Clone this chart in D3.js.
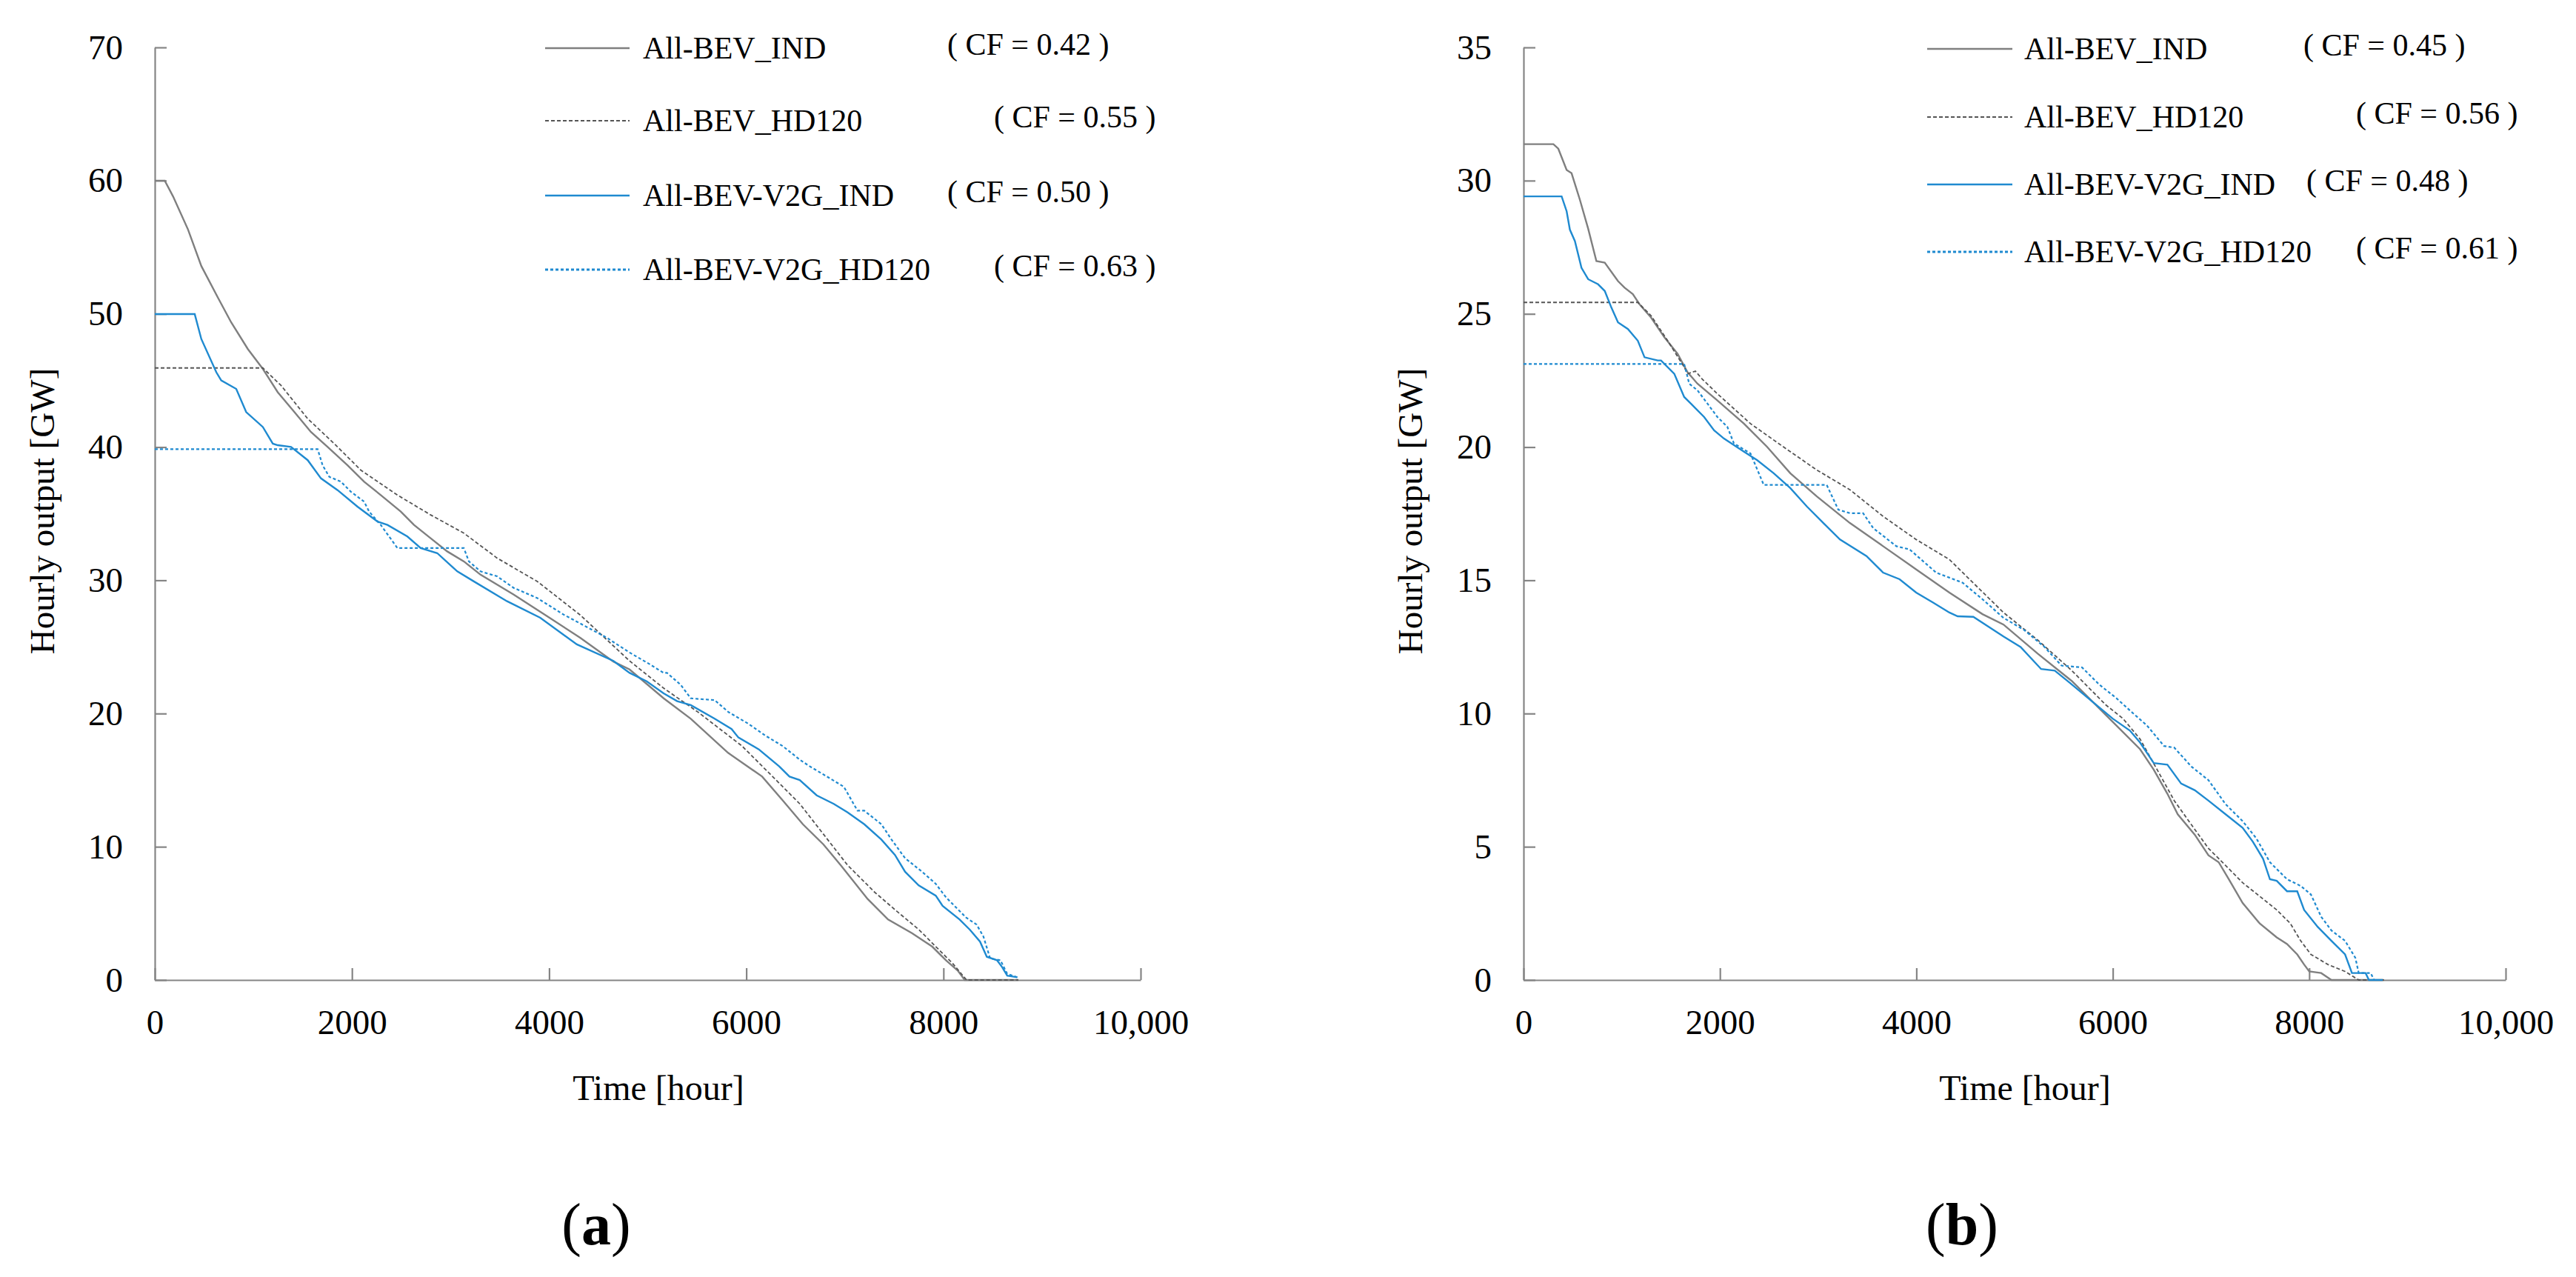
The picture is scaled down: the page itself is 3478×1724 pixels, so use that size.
<!DOCTYPE html>
<html>
<head>
<meta charset="utf-8">
<script src="https://cdn.jsdelivr.net/npm/d3@7"></script>
<style>
  body { margin: 0; background: #fff; }
  text { font-family: "Liberation Serif", "Times New Roman", "DejaVu Serif", serif; fill: #000; }
</style>
</head>
<body>
<svg id="chart" width="3478" height="1724"></svg>
<script>
// legend names and capacity factors
var seriesNames = ["All-BEV_IND", "All-BEV_HD120", "All-BEV-V2G_IND", "All-BEV-V2G_HD120"];
var cfA = ["0.42", "0.55", "0.50", "0.63"];
var cfB = ["0.45", "0.56", "0.48", "0.61"];

var xTicks = [0, 2000, 4000, 6000, 8000, 10000];
var xTickLabels = ["0", "2000", "4000", "6000", "8000", "10,000"];
var yTicksA = [0, 10, 20, 30, 40, 50, 60, 70];
var yTicksB = [0, 5, 10, 15, 20, 25, 30, 35];

// panel (a): [hour, GW]
var aBevInd = [[0,60],[101,60],[185,58.82],[337,56.33],[472,53.59],[640,51.22],[775,49.36],[944,47.36],[1096,45.87],[1247,44.12],[1416,42.63],[1584,41.13],[1753,40.01],[1955,38.64],[2124,37.4],[2292,36.4],[2495,35.16],[2629,34.16],[2798,33.16],[2966,32.17],[3135,31.42],[3304,30.42],[3641,28.93],[3978,27.31],[4315,25.69],[4652,23.9],[4816,23.31],[5162,21.14],[5437,19.61],[5815,17.05],[6161,15.27],[6369,13.48],[6574,11.69],[6784,10.16],[6956,8.63],[7231,6.08],[7438,4.54],[7680,3.52],[7887,2.5],[8025,1.48],[8145,0.71],[8216,0],[8760,0]];
var aBevHd120 = [[0,45.94],[1096,45.94],[1281,44.62],[1551,42.13],[1820,40.26],[2090,38.27],[2461,36.4],[2798,34.91],[3135,33.54],[3472,31.67],[3877,29.93],[4315,27.4],[4816,23.95],[5162,21.9],[5508,20.12],[5957,17.56],[6302,15.01],[6543,13.22],[6784,10.93],[7026,8.63],[7302,6.59],[7544,5.05],[7751,3.78],[7923,2.5],[8095,1.23],[8182,0.46],[8234,0],[8760,0]];
var aV2gInd = [[0,49.98],[405,49.98],[472,48.11],[624,45.62],[674,45.0],[826,44.37],[927,42.63],[1096,41.51],[1197,40.26],[1247,40.14],[1382,40.01],[1551,39.02],[1686,37.65],[1854,36.77],[2056,35.53],[2259,34.41],[2360,34.16],[2562,33.29],[2697,32.42],[2865,32.04],[3068,30.67],[3236,29.92],[3573,28.43],[3910,27.19],[4281,25.19],[4652,23.95],[4816,23.05],[4989,22.42],[5161,21.52],[5299,20.93],[5437,20.63],[5679,19.61],[5851,18.84],[5920,18.2],[6127,17.31],[6334,16.03],[6438,15.27],[6542,15.01],[6714,13.86],[6887,13.22],[7025,12.59],[7197,11.69],[7370,10.54],[7508,9.39],[7611,8.12],[7749,7.1],[7922,6.33],[7991,5.57],[8164,4.54],[8267,3.78],[8371,2.88],[8440,1.74],[8543,1.48],[8595,0.97],[8647,0.33],[8750,0.2]];
var aV2gHd120 = [[0,39.84],[1652,39.84],[1702,38.64],[1770,37.77],[1888,37.4],[1989,36.65],[2124,35.9],[2174,35.16],[2292,34.16],[2461,32.42],[3135,32.42],[3186,31.42],[3304,30.67],[3472,30.3],[3641,29.43],[3877,28.68],[4146,27.43],[4585,25.69],[4816,24.58],[5023,23.69],[5161,23.05],[5196,23.05],[5334,22.16],[5437,21.14],[5679,21.01],[5817,20.12],[6024,19.22],[6196,18.33],[6369,17.56],[6542,16.54],[6645,16.03],[6818,15.27],[6990,14.5],[7128,12.71],[7197,12.71],[7370,11.69],[7473,10.54],[7611,9.14],[7784,8.12],[7922,7.22],[8026,6.2],[8232,4.67],[8336,4.16],[8405,3.27],[8474,1.61],[8578,1.48],[8647,0.46],[8750,0.2]];

// panel (b): [hour, GW]
var bBevInd = [[0,31.37],[304,31.37],[354,31.2],[439,30.4],[489,30.28],[574,29.28],[658,28.2],[742,26.98],[827,26.92],[962,26.23],[1029,25.98],[1113,25.74],[1181,25.36],[1299,24.86],[1434,24.12],[1569,23.5],[1670,22.81],[1771,22.38],[1974,21.75],[2244,20.88],[2480,20.01],[2716,19.02],[2986,18.15],[3323,17.15],[3661,16.28],[3998,15.41],[4336,14.54],[4673,13.73],[4887,13.34],[5235,12.25],[5583,11.22],[5757,10.58],[5930,9.94],[6070,9.43],[6278,8.66],[6417,7.89],[6556,6.99],[6661,6.22],[6835,5.45],[6974,4.68],[7078,4.42],[7182,3.78],[7322,2.89],[7496,2.12],[7669,1.6],[7774,1.35],[7878,0.96],[7948,0.58],[8000,0.32],[8122,0.26],[8226,0],[8760,0]];
var bBevHd120 = [[0,25.43],[1164,25.43],[1299,24.93],[1468,23.99],[1636,23.0],[1670,22.75],[1750,22.85],[1820,22.55],[1974,22.0],[2311,20.88],[2649,20.0],[2986,19.14],[3323,18.4],[3661,17.4],[3998,16.53],[4336,15.78],[4887,13.79],[5235,12.76],[5583,11.61],[5930,10.32],[6104,9.81],[6278,9.04],[6452,7.89],[6626,6.73],[6800,5.83],[6974,4.94],[7148,4.3],[7322,3.65],[7496,3.14],[7669,2.63],[7808,2.12],[7913,1.47],[8017,0.96],[8191,0.58],[8365,0.32],[8504,0],[8760,0]];
var bV2gInd = [[0,29.41],[388,29.41],[439,28.85],[472,28.16],[523,27.73],[590,26.73],[658,26.3],[759,26.11],[827,25.86],[894,25.24],[962,24.68],[1063,24.43],[1164,23.99],[1232,23.37],[1366,23.25],[1400,23.25],[1535,22.75],[1636,21.88],[1704,21.63],[1839,21.13],[1940,20.63],[2041,20.32],[2244,19.83],[2379,19.51],[2547,19.02],[2716,18.46],[2885,17.77],[3053,17.15],[3222,16.53],[3492,15.91],[3661,15.29],[3829,15.04],[3998,14.54],[4167,14.17],[4336,13.79],[4420,13.65],[4580,13.63],[4887,12.89],[5061,12.5],[5270,11.67],[5409,11.61],[5583,11.09],[5791,10.45],[5999,9.81],[6174,9.36],[6278,8.91],[6417,8.14],[6556,8.08],[6696,7.37],[6835,7.12],[6974,6.73],[7148,6.22],[7322,5.71],[7426,5.19],[7530,4.55],[7600,3.78],[7669,3.72],[7774,3.33],[7878,3.33],[7948,2.63],[8087,1.99],[8226,1.47],[8365,0.96],[8435,0.26],[8574,0.26],[8608,0],[8748,0]];
var bV2gHd120 = [[0,23.12],[1636,23.12],[1687,22.38],[1771,22.13],[1873,21.63],[1974,21.13],[2075,20.76],[2142,20.14],[2311,19.76],[2446,18.58],[3087,18.58],[3205,17.65],[3323,17.52],[3458,17.52],[3560,16.96],[3796,16.28],[3931,16.16],[4201,15.29],[4471,14.91],[4673,14.29],[4887,13.59],[5096,13.14],[5304,12.5],[5478,11.8],[5687,11.73],[5861,11.09],[6035,10.58],[6209,10.0],[6348,9.55],[6522,8.78],[6626,8.72],[6800,8.01],[6974,7.5],[7148,6.6],[7322,5.96],[7461,5.32],[7600,4.42],[7774,3.78],[7913,3.53],[8017,3.21],[8122,2.37],[8226,1.86],[8365,1.47],[8470,0.83],[8504,0.26],[8626,0.26],[8661,0]];

var styles = [
  { color: "#7f7f7f", width: 2.4, dash: null },
  { color: "#555555", width: 1.8, dash: "5,3" },
  { color: "#1f8ad0", width: 2.4, dash: null },
  { color: "#1f8ad0", width: 2.2, dash: "4,3" }
];

var svg = d3.select("#chart");

function drawPanel(p) {
  var x = d3.scaleLinear().domain([0, 10000]).range([p.left, p.right]);
  var y = d3.scaleLinear().domain([0, p.yMax]).range([p.bottom, p.top]);
  var g = svg.append("g");

  var xAxis = d3.axisBottom(x).tickValues(xTicks)
    .tickFormat(function (d, i) { return xTickLabels[i]; })
    .tickSizeInner(-16).tickSizeOuter(0).tickPadding(40);
  var yAxis = d3.axisLeft(y).tickValues(p.yTicks)
    .tickSizeInner(-16).tickSizeOuter(0).tickPadding(43);

  var gx = g.append("g").attr("transform", "translate(0," + p.bottom + ")").call(xAxis);
  var gy = g.append("g").attr("transform", "translate(" + p.left + ",0)").call(yAxis);
  [gx, gy].forEach(function (ax) {
    ax.attr("font-family", null);
    ax.selectAll("path, line").attr("stroke", "#858585").attr("stroke-width", 2.2);
    ax.selectAll("text")
      .style("font-size", "47px").attr("fill", "#000");
  });
  gy.selectAll("text").attr("dy", "0.32em");

  var line = d3.line()
    .x(function (d) { return x(d[0]); })
    .y(function (d) { return y(d[1]); });

  p.series.forEach(function (data, i) {
    var s = styles[i];
    g.append("path")
      .datum(data)
      .attr("d", line)
      .attr("fill", "none")
      .attr("stroke", s.color)
      .attr("stroke-width", s.width)
      .attr("stroke-dasharray", s.dash);
  });

  // legend
  seriesNames.forEach(function (name, i) {
    var s = styles[i];
    var ly = p.legY[i];
    g.append("line")
      .attr("x1", p.legLineX[0]).attr("x2", p.legLineX[1])
      .attr("y1", ly).attr("y2", ly)
      .attr("stroke", s.color)
      .attr("stroke-width", i == 3 ? 3 : s.width)
      .attr("stroke-dasharray", s.dash);
    g.append("text")
      .attr("x", p.legTextX).attr("y", ly + 14)
      .style("font-size", "42px")
      .text(name);
    g.append("text")
      .attr("x", p.cfX[i]).attr("y", ly + 9)
      .style("font-size", "42px")
      .text("( CF = " + p.cf[i] + " )");
  });

  g.append("text")
    .attr("x", p.xTitleX).attr("y", 1485)
    .attr("text-anchor", "middle")
    .style("font-size", "48px")
    .text("Time [hour]");

  g.append("text")
    .attr("transform", "translate(" + p.yTitleX + ",690) rotate(-90)")
    .attr("text-anchor", "middle")
    .style("font-size", "47px")
    .text("Hourly output [GW]");

  var lab = g.append("text")
    .attr("x", p.labelX).attr("y", 1680)
    .attr("text-anchor", "middle")
    .style("font-size", "80px");
  lab.append("tspan").text("(");
  lab.append("tspan").style("font-weight", "bold").text(p.label);
  lab.append("tspan").text(")");
}

drawPanel({
  left: 209, right: 1540, top: 64, bottom: 1323, yMax: 70, yTicks: yTicksA,
  series: [aBevInd, aBevHd120, aV2gInd, aV2gHd120],
  legY: [65, 163, 264, 364], legLineX: [736, 850], legTextX: 868,
  cfX: [1279, 1342, 1279, 1342], cf: cfA,
  xTitleX: 889, yTitleX: 73, labelX: 805, label: "a"
});

drawPanel({
  left: 2057, right: 3383, top: 64, bottom: 1323, yMax: 35, yTicks: yTicksB,
  series: [bBevInd, bBevHd120, bV2gInd, bV2gHd120],
  legY: [66, 158, 249, 340], legLineX: [2602, 2717], legTextX: 2733,
  cfX: [3110, 3181, 3114, 3181], cf: cfB,
  xTitleX: 2734, yTitleX: 1920, labelX: 2649, label: "b"
});
</script>
</body>
</html>
